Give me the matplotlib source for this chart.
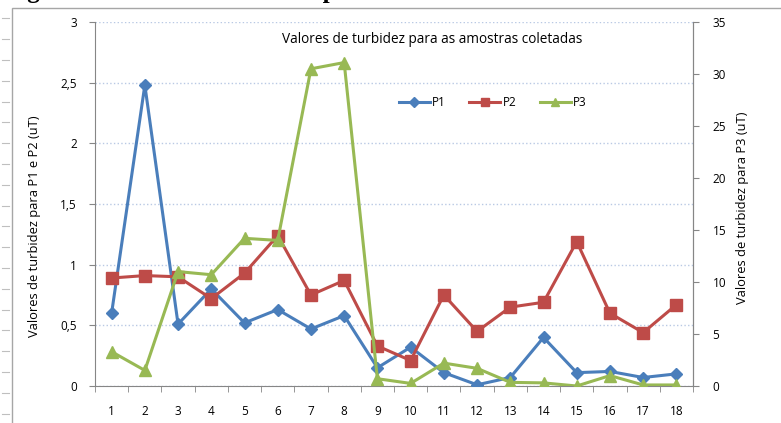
import numpy as np
import matplotlib.pyplot as plt
from matplotlib.patches import Rectangle
from matplotlib.lines import Line2D

amostras = list(range(1, 19))
p1 = [0.60, 2.48, 0.51, 0.80, 0.52, 0.63, 0.47, 0.58, 0.15, 0.32,
      0.11, 0.01, 0.07, 0.40, 0.11, 0.12, 0.07, 0.10]
p2 = [0.89, 0.91, 0.90, 0.72, 0.93, 1.24, 0.75, 0.87, 0.33, 0.21,
      0.75, 0.45, 0.65, 0.69, 1.19, 0.60, 0.44, 0.67]
p3 = [3.3, 1.5, 11.0, 10.7, 14.2, 14.0, 30.5, 31.1, 0.7, 0.25,
      2.2, 1.7, 0.35, 0.3, 0.0, 1.0, 0.1, 0.1]

W, H = 781, 423
fig = plt.figure(figsize=(W / 100, H / 100), dpi=100)
plt.rcParams['font.family'] = ['Open Sans', 'DejaVu Sans']

ax = fig.add_axes([95 / W, 1 - 386 / H, 598 / W, 364 / H])
ax2 = ax.twinx()

azul, vermelho, verde = '#4a7ebb', '#be4b48', '#98b954'
ax.plot(amostras, p1, color=azul, lw=2.2, marker='D', ms=6.5, label='P1', zorder=3)
ax.plot(amostras, p2, color=vermelho, lw=2.2, marker='s', ms=9, label='P2', zorder=3)
ax2.plot(amostras, p3, color=verde, lw=2.2, marker='^', ms=9, label='P3', zorder=3)

ax.set_xlim(0.5, 18.5)
ax.set_ylim(0, 3)
ax2.set_ylim(0, 35)
ax.set_yticks(np.arange(0, 3.01, 0.5))
ax.set_yticklabels(['0', '0,5', '1', '1,5', '2', '2,5', '3'])
ax2.set_yticks(range(0, 36, 5))
ax.set_xticks(amostras)
ax.set_xticks(np.arange(0.5, 19, 1), minor=True)
ax.tick_params(axis='x', which='major', length=0, pad=14, labelsize=8.5)
ax.tick_params(axis='x', which='minor', length=4, color='#868686')
ax.tick_params(axis='y', length=4, color='#868686', pad=9, labelsize=8.5)
ax2.tick_params(axis='y', length=4, color='#868686', pad=10, labelsize=8.5)

ax.grid(axis='y', color='#b9c9e4', ls=':', lw=1)
for a in (ax, ax2):
    a.spines['top'].set_visible(False)
    for s in ('left', 'right', 'bottom'):
        a.spines[s].set_color('#868686')
ax2.spines['left'].set_visible(False)
ax2.spines['bottom'].set_visible(False)

ax.set_ylabel('Valores de turbidez para P1 e P2 (uT)', fontsize=9.3)
ax.yaxis.set_label_coords(-0.09, 0.44)
ax2.set_ylabel('Valores de turbidez para P3 (uT)', fontsize=9.3)
ax2.yaxis.set_label_coords(1.072, 0.49)
ax.text(0.5635, 0.953, 'Valores de turbidez para as amostras coletadas', fontsize=9.8,
        ha='center', va='center', transform=ax.transAxes)

handles = [Line2D([], [], color=azul, lw=2.2, marker='D', ms=5),
           Line2D([], [], color=vermelho, lw=2.2, marker='s', ms=6),
           Line2D([], [], color=verde, lw=2.2, marker='^', ms=6)]
ax2.legend(handles, ['P1', 'P2', 'P3'], loc='center', bbox_to_anchor=(0.665, 0.778),
           ncol=3, frameon=False, fontsize=8.5, handlelength=2.6, columnspacing=2.0,
           handletextpad=0.2)

# moldura da figura e marcas da margem da página
fig.add_artist(Rectangle((12 / W, -0.5), 2, 1.5 - 8 / H, transform=fig.transFigure,
                         fill=False, ec='#a6a6a6', lw=1))
for yy in np.arange(18.3, H, 20.8):
    fig.add_artist(Line2D([2 / W, 9 / W], [1 - yy / H] * 2, color='#bfbfbf', lw=0.8))

# legenda da figura no texto acima, cortada pela borda
fig.text(5 / W, 1 + 2 / H, 'Figura 3: Valores de turbidez para todas as amostras coletadas',
         family='Liberation Serif', weight='bold', fontsize=18, va='baseline')

fig.savefig('out.png', dpi=100)
